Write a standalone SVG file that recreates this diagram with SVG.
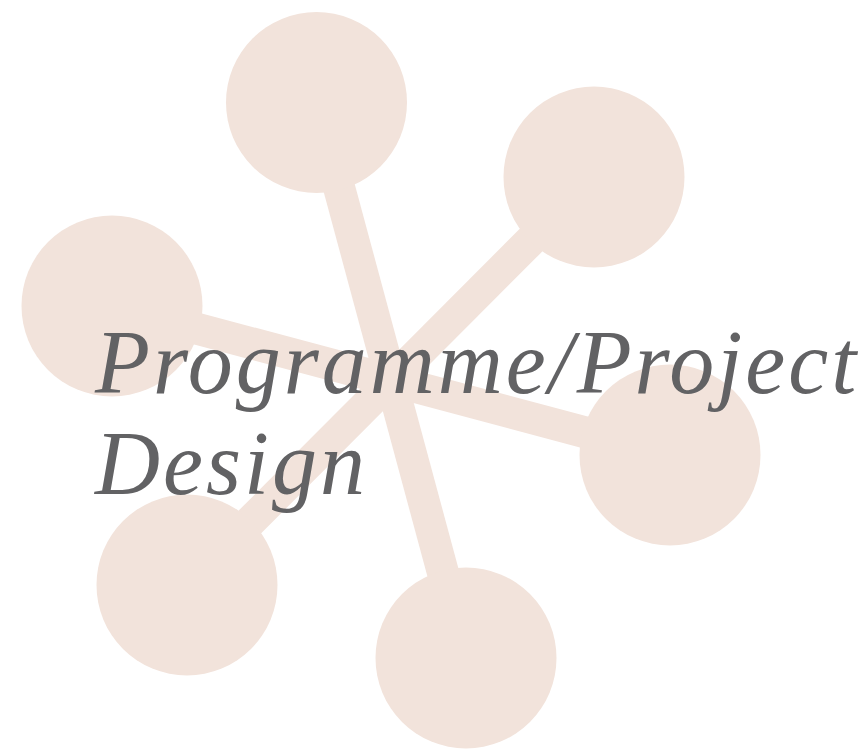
<svg xmlns="http://www.w3.org/2000/svg" width="868" height="750" viewBox="0 0 868 750">
<style>
.n{fill:#f2e3db}
.c{stroke:#f2e3db;stroke-width:32;fill:none}
.t{font-family:"Liberation Serif",serif;font-style:italic;font-size:90px;fill:#626264;letter-spacing:3px}
</style>
<rect width="868" height="750" fill="#ffffff"/>
<g id="connectors">
<line class="c" x1="316" y1="102" x2="466" y2="658"/>
<line class="c" x1="594" y1="177" x2="187" y2="585"/>
<line class="c" x1="112" y1="306" x2="670" y2="455"/>
</g>
<g id="node-top"><circle class="n" cx="316.5" cy="102.5" r="90.5"/></g>
<g id="node-topright"><circle class="n" cx="594" cy="177" r="90.5"/></g>
<g id="node-left"><circle class="n" cx="112" cy="306" r="90.5"/></g>
<g id="node-right"><circle class="n" cx="670" cy="455" r="90.5"/></g>
<g id="node-bottomleft"><circle class="n" cx="187" cy="585" r="90.5"/></g>
<g id="node-bottom"><circle class="n" cx="466" cy="658" r="90.5"/></g>
<g id="title">
<text class="t" x="95" y="393">Programme/Project</text>
<text class="t" x="95" y="494">Design</text>
</g>
</svg>
